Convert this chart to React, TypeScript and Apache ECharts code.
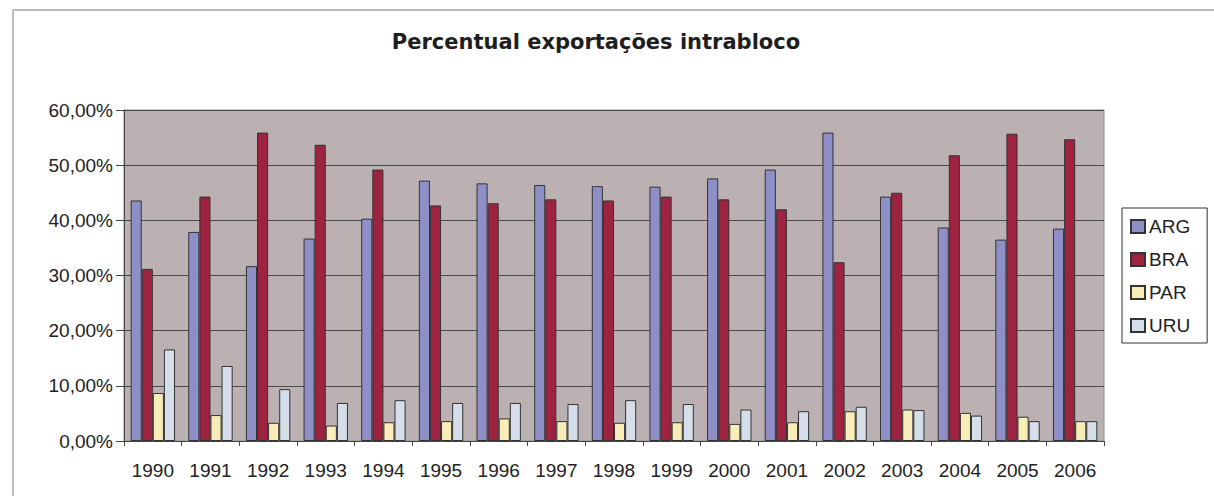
import React, { useEffect, useRef } from "react";
import * as echarts from "echarts";

// Intra-bloc export share (%) by country, 1990–2006
const years = ["1990", "1991", "1992", "1993", "1994", "1995", "1996", "1997", "1998", "1999", "2000", "2001", "2002", "2003", "2004", "2005", "2006"];
const arg = [43.6, 37.9, 31.7, 36.7, 40.3, 47.2, 46.7, 46.4, 46.2, 46.1, 47.6, 49.2, 55.9, 44.3, 38.7, 36.5, 38.5];
const bra = [31.2, 44.3, 55.9, 53.7, 49.2, 42.7, 43.1, 43.8, 43.6, 44.3, 43.8, 42.0, 32.4, 45.0, 51.8, 55.7, 54.7];
const par = [8.7, 4.7, 3.3, 2.8, 3.4, 3.6, 4.1, 3.6, 3.3, 3.4, 3.1, 3.4, 5.4, 5.7, 5.1, 4.4, 3.6];
const uru = [16.6, 13.6, 9.4, 6.9, 7.4, 6.9, 6.9, 6.7, 7.4, 6.7, 5.7, 5.4, 6.2, 5.6, 4.6, 3.6, 3.6];
const yTicks = { min: 0, max: 60, step: 10 };

const FONT = "'Liberation Sans', Arial, sans-serif";
const TEXT = "#222";

export default function App() {
  const ref = useRef<HTMLDivElement>(null);

  useEffect(() => {
    if (!ref.current) return;
    const chart = echarts.init(ref.current, null, { renderer: "svg" });

    const bar = (name: string, data: number[], color: string) => ({
      name,
      type: "bar",
      data,
      barGap: "0%",
      barCategoryGap: "23%",
      itemStyle: { color, borderColor: "#333", borderWidth: 1 },
    });

    chart.setOption({
      animation: false,
      backgroundColor: "#ffffff",
      title: {
        text: "Percentual exportações intrabloco",
        left: 591,
        top: 26,
        textAlign: "center",
        textStyle: { fontFamily: "'DejaVu Sans', sans-serif", fontWeight: "bold", fontSize: 21, color: "#1e1e1e" },
      },
      graphic: [
        {
          type: "rect",
          shape: { x: 13, y: 10, width: 1220, height: 500 },
          style: { fill: "none", stroke: "#7a7a7a", lineWidth: 1 },
          silent: true,
          z: -1,
        },
      ],
      legend: {
        orient: "vertical",
        left: 1122,
        top: 208,
        padding: [9, 17, 8, 8],
        itemWidth: 14,
        itemHeight: 13,
        itemGap: 14,
        borderColor: "#333",
        borderWidth: 1,
        icon: "rect",
        textStyle: { fontFamily: FONT, fontSize: 19, color: TEXT, padding: [0, 0, 0, -1] },
      },
      grid: {
        left: 124,
        right: 110,
        top: 110,
        bottom: 55,
        show: true,
        backgroundColor: "#BBB0B2",
        borderColor: "#8e8e8e",
        borderWidth: 1,
      },
      xAxis: {
        type: "category",
        data: years,
        axisLine: { lineStyle: { color: "#444" } },
        axisTick: { show: true, length: 5, lineStyle: { color: "#444" } },
        axisLabel: { margin: 20, fontFamily: FONT, fontSize: 19, color: TEXT },
      },
      yAxis: {
        type: "value",
        min: yTicks.min,
        max: yTicks.max,
        interval: yTicks.step,
        axisLine: { show: true, lineStyle: { color: "#444" } },
        axisTick: { show: true, length: 8, lineStyle: { color: "#444" } },
        splitLine: { show: true, lineStyle: { color: "#4a4a4a", width: 1 } },
        axisLabel: {
          margin: 11,
          fontFamily: FONT,
          fontSize: 19,
          color: TEXT,
          formatter: (v: number) => v.toFixed(2).replace(".", ",") + "%",
        },
      },
      series: [
        bar("ARG", arg, "#8F8FC8"),
        bar("BRA", bra, "#9E2340"),
        bar("PAR", par, "#F8EDB8"),
        bar("URU", uru, "#D6DEEA"),
      ],
    });

    return () => chart.dispose();
  }, []);

  return (
    <div
      ref={ref}
      style={{ position: "fixed", left: 0, top: 0, width: 1214, height: 496, background: "#fff" }}
    />
  );
}
